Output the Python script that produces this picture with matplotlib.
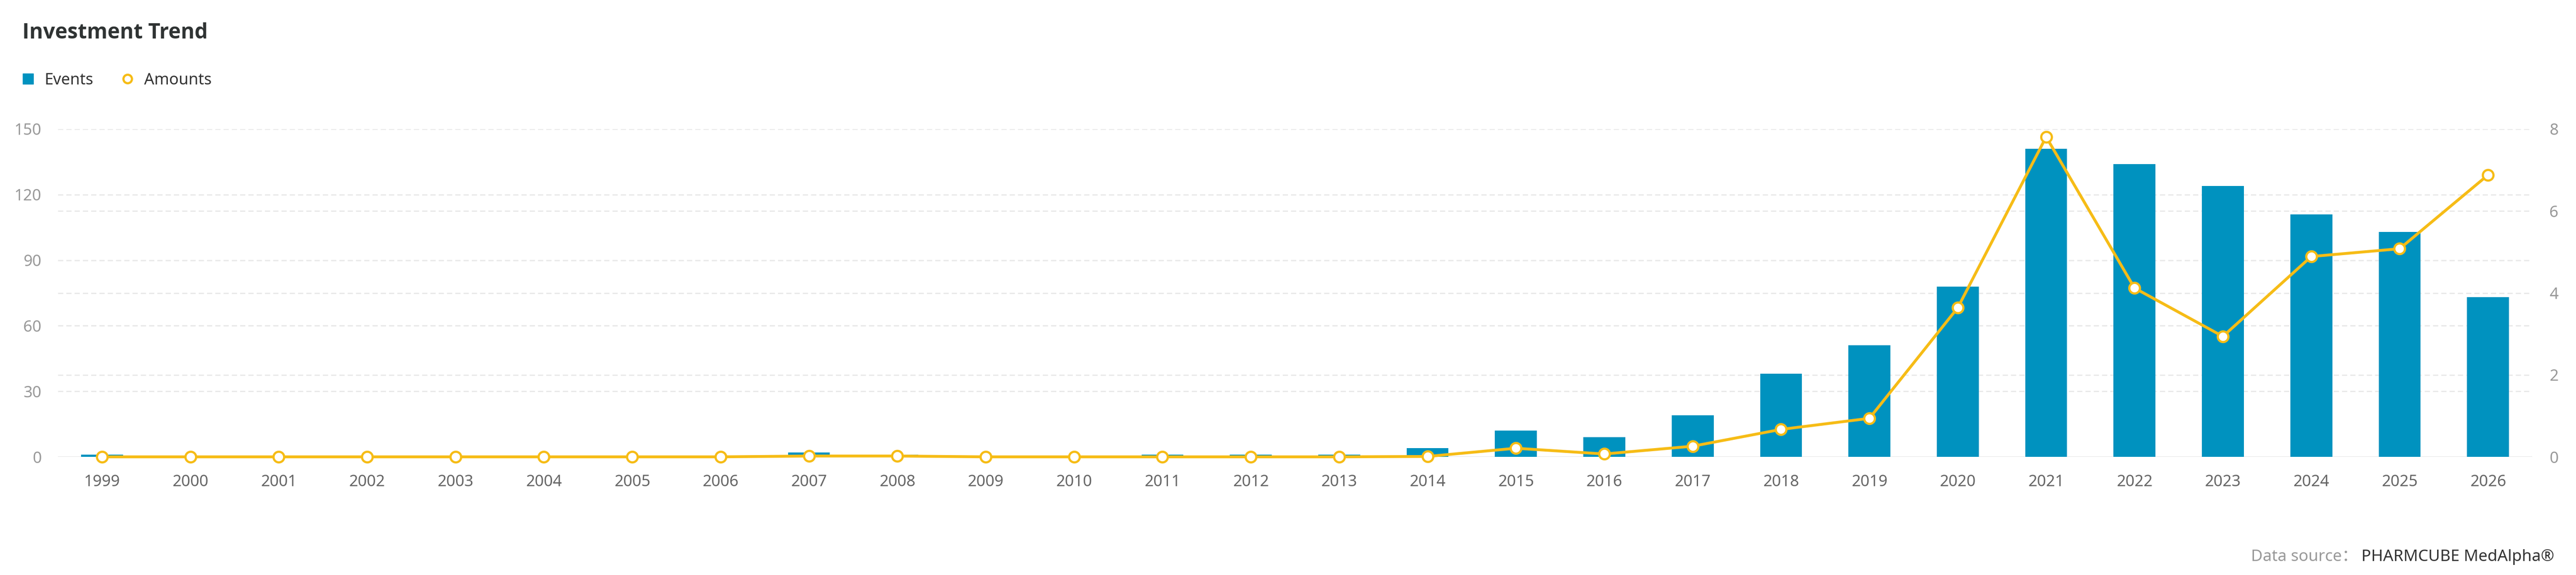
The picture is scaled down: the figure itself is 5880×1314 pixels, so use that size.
import numpy as np
import matplotlib.pyplot as plt
from matplotlib.lines import Line2D

plt.rcParams['font.family'] = ['Noto Sans', 'Noto Sans CJK SC', 'DejaVu Sans']
plt.rcParams['lines.scale_dashes'] = False

# data
years = ['1999', '2000', '2001', '2002', '2003', '2004', '2005', '2006', '2007',
         '2008', '2009', '2010', '2011', '2012', '2013', '2014', '2015', '2016',
         '2017', '2018', '2019', '2020', '2021', '2022', '2023', '2024', '2025', '2026']
events = [1, 0, 0, 0, 0, 0, 0, 0, 2, 1, 0, 0, 1, 1, 1, 4, 12, 9, 19, 38, 51, 78,
          141, 134, 124, 111, 103, 73]
amounts = [0, 0, 0, 0, 0, 0, 0, 0, 0.02, 0.02, 0, 0, 0, 0, 0, 0.01, 0.21, 0.07,
           0.26, 0.67, 0.94, 3.64, 7.81, 4.12, 2.94, 4.89, 5.08, 6.88]
left_ticks = [0, 30, 60, 90, 120, 150]
right_ticks = [0, 2, 4, 6, 8]

blue = '#0092bf'
yellow = '#f6bc16'
grid_col = '#e9e9e9'

W, H = 5880, 1314
fig = plt.figure(figsize=(W / 100, H / 100), dpi=100)
ax = fig.add_axes([132 / W, 1 - 1044 / H, (5780 - 132) / W, (1044 - 295) / H])

x = np.arange(len(years))
ax.bar(x, events, width=0.475, color=blue, zorder=3)
ax.set_xlim(-0.5, len(years) - 0.5)
ax.set_ylim(left_ticks[0], left_ticks[-1])
ax.set_yticks(left_ticks)
ax.set_xticks(x)
ax.set_xticklabels(years)

# dashed grid for both y axes, kept behind the bars
for t in left_ticks[1:]:
    ax.axhline(t, color=grid_col, lw=2.2, ls=(0, (8.6, 5)), zorder=1)
for t in right_ticks[1:-1]:
    ax.axhline(t * left_ticks[-1] / right_ticks[-1], color=grid_col, lw=2.2,
               ls=(0, (8.6, 5)), zorder=1)
ax.axhline(0, color='#e6e6e6', lw=2.5, zorder=2)

ax2 = ax.twinx()
ax2.plot(x, amounts, color=yellow, lw=4.7, marker='o', ms=17.5, mfc='white',
         mec=yellow, mew=3.6, clip_on=False, zorder=4)
ax2.set_ylim(right_ticks[0], right_ticks[-1])
ax2.set_yticks(right_ticks)

for a in (ax, ax2):
    for s in a.spines.values():
        s.set_visible(False)
ax.tick_params(axis='y', length=0, pad=27, labelsize=26, labelcolor='#999999')
ax.tick_params(axis='x', length=0, pad=29, labelsize=26, labelcolor='#666666')
ax2.tick_params(axis='y', length=0, pad=28, labelsize=26, labelcolor='#999999')

fig.text(51 / W, 1 - 75 / H, 'Investment Trend', fontsize=34.5, fontweight='bold',
         family=['Open Sans', 'Noto Sans', 'DejaVu Sans'], color='#2f3333', va='center')

handles = [Line2D([], [], marker='s', ls='none', ms=17, color=blue),
           Line2D([], [], marker='o', ls='none', ms=14, mfc='white', mec=yellow, mew=3.6)]
fig.legend(handles, ['Events', 'Amounts'], loc='center left',
           bbox_to_anchor=(51 / W, 1 - 184 / H), ncol=2, frameon=False, fontsize=26,
           handlelength=0.7, handletextpad=0.7, columnspacing=1.8, borderpad=0,
           borderaxespad=0, labelcolor='#333333')

src = fig.text(5830 / W, 1 - 1273 / H, 'PHARMCUBE MedAlpha®', ha='right', va='center',
               fontsize=26.5, color='#333333')
fig.canvas.draw()
bb = src.get_window_extent()
fig.text((bb.x0 - 8) / W, 1 - 1273 / H, 'Data source：', ha='right', va='center',
         fontsize=26.5, color='#999999')

fig.savefig('out.png', dpi=100)
